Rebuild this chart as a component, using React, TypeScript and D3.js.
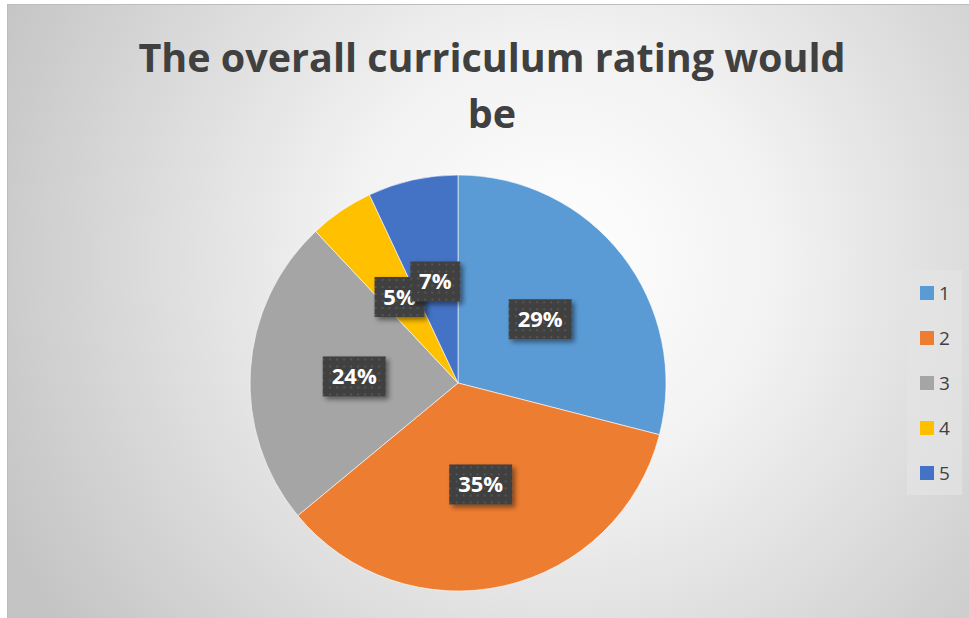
import React, { useEffect, useRef } from 'react'
import * as d3 from 'd3'

const categories = ['1', '2', '3', '4', '5']
const values = [29, 35, 24, 5, 7]
const colors = ['#5B9BD5', '#ED7D31', '#A5A5A5', '#FFC000', '#4472C4']
const titleLines = ['The overall curriculum rating would', 'be']

const W = 969
const H = 618

const App: React.FC = () => {
  const svgRef = useRef<SVGSVGElement>(null)

  useEffect(() => {
    const svg = d3.select(svgRef.current)
    svg.selectAll('*').remove()
    svg.attr('width', W).attr('height', H)

    const defs = svg.append('defs')

    // background radial gradient
    const grad = defs.append('radialGradient')
      .attr('id', 'bg')
      .attr('gradientUnits', 'userSpaceOnUse')
      .attr('cx', 560).attr('cy', 260).attr('r', 620)
    grad.append('stop').attr('offset', '0%').attr('stop-color', '#ffffff')
    grad.append('stop').attr('offset', '35%').attr('stop-color', '#f2f2f2')
    grad.append('stop').attr('offset', '100%').attr('stop-color', '#c4c4c4')

    // dotted pattern for label boxes
    const pat = defs.append('pattern')
      .attr('id', 'dots')
      .attr('patternUnits', 'userSpaceOnUse')
      .attr('width', 7).attr('height', 7)
    pat.append('rect').attr('width', 7).attr('height', 7).attr('fill', '#404040')
    pat.append('rect').attr('x', 3).attr('y', 3).attr('width', 2).attr('height', 2).attr('fill', '#555555')

    const shadow = defs.append('filter').attr('id', 'shadow')
      .attr('x', '-30%').attr('y', '-30%').attr('width', '160%').attr('height', '170%')
    shadow.append('feDropShadow')
      .attr('dx', 3).attr('dy', 3).attr('stdDeviation', 2.5)
      .attr('flood-color', '#000').attr('flood-opacity', 0.45)

    svg.append('rect')
      .attr('x', 7.5).attr('y', 4.5)
      .attr('width', W).attr('height', H)
      .attr('fill', 'url(#bg)')
      .attr('stroke', '#bdbdbd')

    // title
    const title = svg.append('text')
      .attr('text-anchor', 'middle')
      .attr('font-family', 'Open Sans, sans-serif')
      .attr('font-weight', 'bold')
      .attr('font-size', 39.5)
      .attr('fill', '#404040')
    titleLines.forEach((t, i) => {
      title.append('tspan').attr('x', 492).attr('y', 72 + i * 56).text(t)
    })

    // pie
    const cx = 458
    const cy = 383
    const R = 208
    const pie = d3.pie<number>().sort(null).value(d => d)
    const arcs = pie(values)
    const arc = d3.arc<d3.PieArcDatum<number>>().innerRadius(0).outerRadius(R)

    const g = svg.append('g').attr('transform', `translate(${cx},${cy})`)

    g.selectAll('path.slice')
      .data(arcs)
      .enter()
      .append('path')
      .attr('class', 'slice')
      .attr('d', arc)
      .attr('fill', (d, i) => colors[i])
      .attr('stroke', '#ffffff')
      .attr('stroke-width', 0.6)

    // data labels
    const totalVal = d3.sum(values)
    const pct = (v: number) => Math.round(v / totalVal * 100)
    const labels = g.selectAll('g.lbl')
      .data(arcs)
      .enter()
      .append('g')
      .attr('class', 'lbl')
      .attr('transform', d => {
        const [x, y] = arc.centroid(d)
        return `translate(${x},${y})`
      })

    labels.append('rect')
      .attr('x', d => (pct(d.data) >= 10 ? -31.5 : -25))
      .attr('y', -20)
      .attr('width', d => (pct(d.data) >= 10 ? 63 : 50))
      .attr('height', 40)
      .attr('fill', 'url(#dots)')
      .attr('filter', 'url(#shadow)')

    labels.append('text')
      .attr('text-anchor', 'middle')
      .attr('dy', '0.36em')
      .attr('font-family', 'Open Sans, sans-serif')
      .attr('font-weight', 'bold')
      .attr('font-size', 22)
      .attr('fill', '#ffffff')
      .text(d => `${pct(d.data)}%`)

    // legend
    const lg = svg.append('g')
    lg.append('rect')
      .attr('x', 907).attr('y', 270)
      .attr('width', 55).attr('height', 225)
      .attr('fill', '#e4e4e4')
      .attr('fill-opacity', 0.7)

    const ly = d3.scalePoint<string>().domain(categories).range([293, 473])
    const items = lg.selectAll('g.item')
      .data(categories)
      .enter()
      .append('g')
      .attr('class', 'item')
      .attr('transform', d => `translate(920,${ly(d)})`)

    items.append('rect')
      .attr('x', 0).attr('y', -7)
      .attr('width', 14).attr('height', 14)
      .attr('fill', (d, i) => colors[i])

    items.append('text')
      .attr('x', 19)
      .attr('dy', '0.36em')
      .attr('font-family', 'Open Sans, sans-serif')
      .attr('font-size', 19)
      .attr('fill', '#404040')
      .text(d => d)
  }, [])

  return (
    <div style={{ position: 'absolute', left: 0, top: 0 }}>
      <svg ref={svgRef} style={{ display: 'block' }}></svg>
    </div>
  )
}

export default App
